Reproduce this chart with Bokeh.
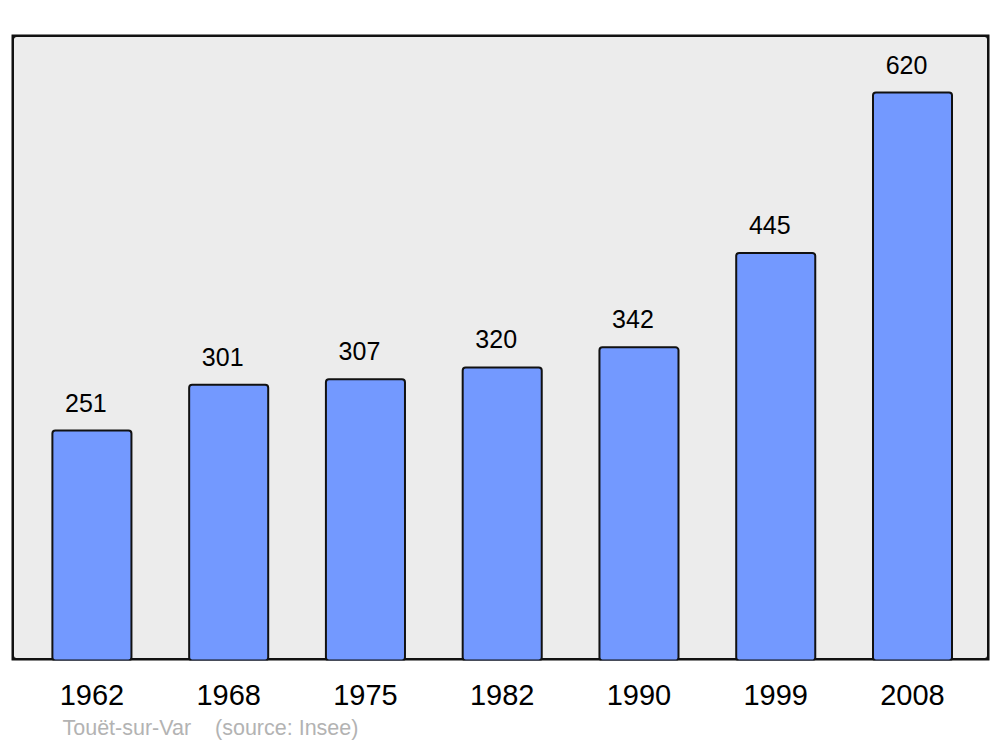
from bokeh.plotting import figure
from bokeh.models import Range1d, FixedTicker, BoxAnnotation, ColumnDataSource, Title
from bokeh.core.properties import value
from bokeh.embed import file_html
from bokeh.resources import INLINE

years = ["1962", "1968", "1975", "1982", "1990", "1999", "2008"]
population = [251, 301, 307, 320, 342, 445, 620]
caption = "Touët-sur-Var\u00a0\u00a0\u00a0\u00a0(source: Insee)"

xs = list(range(len(years)))
src = ColumnDataSource(dict(x=xs, top=population, lbl=[str(v) for v in population]))

FONT = "Liberation Sans"

p = figure(width=992, height=739, output_backend="svg", toolbar_location=None,
           x_range=Range1d(-0.588, 6.563), y_range=Range1d(0, 683.4),
           min_border_left=11, min_border_right=3, min_border_top=34, min_border_bottom=79,
           frame_width=978, frame_height=626)
p.background_fill_color = "white"
p.border_fill_color = "white"
p.outline_line_color = None
p.grid.visible = False
p.yaxis.visible = False

bg = BoxAnnotation(fill_color="#ececec", fill_alpha=1, line_color="#111111", line_alpha=1,
                   line_width=5, border_radius=5, level="underlay")
p.add_layout(bg)

p.vbar(x="x", top="top", bottom=0, width=0.578, source=src, fill_color="#7399ff",
       line_color="#111111", line_width=2, border_radius=3)

p.text(x="x", y="top", text="lbl", source=src, text_align="center", text_baseline="middle",
       x_offset=-6, y_offset=-28, text_font=value(FONT), text_font_size="25px", text_color="black")

ax = p.xaxis[0]
ax.ticker = FixedTicker(ticks=xs)
ax.major_label_overrides = {i: y for i, y in enumerate(years)}
ax.axis_line_color = None
ax.major_tick_line_color = None
ax.minor_tick_line_color = None
ax.major_label_standoff = 18
ax.major_label_text_font = FONT
ax.major_label_text_font_size = "29px"
ax.major_label_text_color = "black"

t = Title(text=caption, align="left", offset=51, text_font=FONT, text_font_size="21.5px",
          text_font_style="normal", text_color="#b3b3b3", standoff=13)
p.add_layout(t, "below")

open("out.html", "w").write(file_html(p, INLINE))
